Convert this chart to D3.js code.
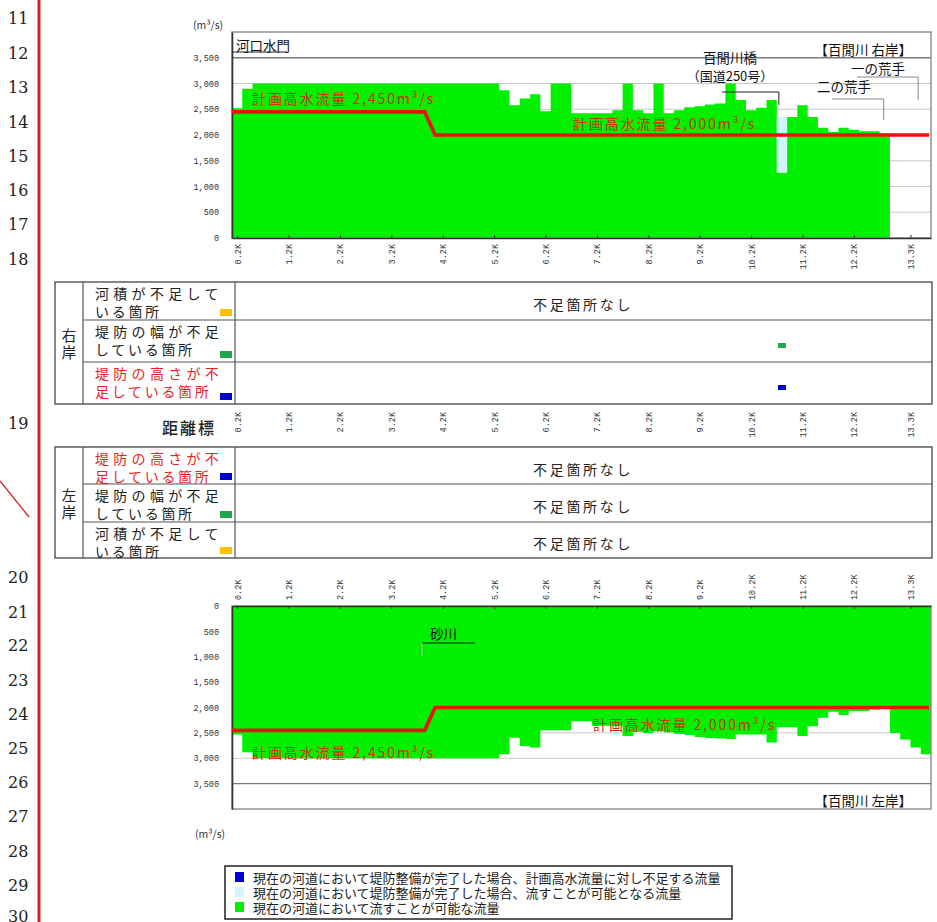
<!DOCTYPE html>
<html>
<head>
<meta charset="utf-8">
<script src="https://cdn.jsdelivr.net/npm/d3@7"></script>
<style>
  body { margin: 0; background: #fff; }
  svg text { font-family: "Noto Sans CJK JP", "Noto Sans", sans-serif; }
</style>
</head>
<body>
<div id="container"></div>
<script>
// distance markers (km), one section of 0.2 km each
const kmMarks = [
  0.2, 0.4, 0.6, 0.8, 1.0, 1.2, 1.4, 1.6, 1.8, 2.0,
  2.2, 2.4, 2.6, 2.8, 3.0, 3.2, 3.4, 3.6, 3.8, 4.0,
  4.2, 4.4, 4.6, 4.8, 5.0, 5.2, 5.4, 5.6, 5.8, 6.0,
  6.2, 6.4, 6.6, 6.8, 7.0, 7.2, 7.4, 7.6, 7.8, 8.0,
  8.2, 8.4, 8.6, 8.8, 9.0, 9.2, 9.4, 9.6, 9.8, 10.0,
  10.2, 10.4, 10.6, 10.8, 11.0, 11.2, 11.4, 11.6, 11.8, 12.0,
  12.2, 12.4, 12.6, 12.8, 13.0, 13.2, 13.4, 13.6
];

// current capacity, right bank (m3/s)
const rightFlow = [
  2520, 2900, 3000, 3000, 3000, 3000, 3000, 3000, 3000, 3000,
  3000, 3000, 3000, 3000, 3000, 3000, 3000, 3000, 3000, 3000,
  3000, 3000, 3000, 3000, 3000, 3000, 2870, 2580, 2710, 2790,
  2460, 3000, 3000, 2420, 2420, 2420, 2420, 2480, 3000, 2480,
  2420, 3000, 2420, 2480, 2540, 2560, 2590, 2610, 3000, 2680,
  2480, 2530, 2680, 1270, 2350, 2580, 2350, 2140, 2060, 2140,
  2100, 2075, 2075, 2030, null, null, null, null
];

// capacity once levee works are done (right bank)
const rightLeveeKm = [10.8];
const rightLeveeFlow = [2350];

// current capacity, left bank (m3/s)
const leftFlow = [
  2530, 2880, 3000, 3000, 3000, 3000, 3000, 3000, 3000, 3000,
  3000, 3000, 3000, 3000, 3000, 3000, 3000, 3000, 3000, 3000,
  3000, 3000, 3000, 3000, 3000, 3000, 2920, 2595, 2760, 2790,
  2450, 2450, 2450, 2270, 2270, 2360, 2360, 2360, 2560, 2480,
  2500, 2470, 2490, 2520, 2540, 2580, 2600, 2610, 2620, 2530,
  2530, 2530, 2690, 2390, 2390, 2560, 2370, 2200, 2085, 2150,
  2070, 2070, 2040, 2020, 2500, 2630, 2790, 2920
];

// planned high water discharge
const planKm = [0.1, 3.85, 4.05, 13.66];
const planFlow = [2450, 2450, 2000, 2000];

const tickKm = [0.2, 1.2, 2.2, 3.2, 4.2, 5.2, 6.2, 7.2, 8.2, 9.2, 10.2, 11.2, 12.2, 13.3];
const tickLabels = ["0.2K", "1.2K", "2.2K", "3.2K", "4.2K", "5.2K", "6.2K", "7.2K", "8.2K", "9.2K", "10.2K", "11.2K", "12.2K", "13.3K"];
const flowTicks = [0, 500, 1000, 1500, 2000, 2500, 3000, 3500];

// shortage table
const rightRowsText = [["河積が不足して", "いる箇所"], ["堤防の幅が不足", "している箇所"], ["堤防の高さが不", "足している箇所"]];
const rightRowsKind = ["area", "width", "height"];
const leftRowsText = [["堤防の高さが不", "足している箇所"], ["堤防の幅が不足", "している箇所"], ["河積が不足して", "いる箇所"]];
const leftRowsKind = ["height", "width", "area"];
const rightShortKm = { area: [], width: [10.8], height: [10.8] };
const leftShortKm = { area: [], width: [], height: [] };

const legendLabels = [
  "現在の河道において堤防整備が完了した場合、計画高水流量に対し不足する流量",
  "現在の河道において堤防整備が完了した場合、流すことが可能となる流量",
  "現在の河道において流すことが可能な流量"
];

const lineNos = [11, 12, 13, 14, 15, 16, 17, 18, 19, 20, 21, 22, 23, 24, 25, 26, 27, 28, 29, 30];

// ---------- layout / style ----------
const W = 937, H = 922;
const GREEN = "#00f000", LIGHT = "#d4f4fb", BLUE = "#0000d8", RED = "#e8140c", LABEL_RED = "#cc3008";
const kindColor = { area: "#ffc000", width: "#1ea84e", height: "#0000d0" };
const lineNoY = [18, 53, 87, 122, 156, 190, 224, 259, 423, 577, 612, 645, 680, 714, 748, 782, 816, 851, 885, 916];

const x = d3.scaleLinear().domain([0.1, 13.7]).range([232, 931]);
const yTop = d3.scaleLinear().domain([0, 4000]).range([238, 32]);
const yBot = d3.scaleLinear().domain([0, 4000]).range([606, 809]);

const svg = d3.create("svg")
  .attr("width", W)
  .attr("height", H)
  .attr("viewBox", [0, 0, W, H]);

svg.append("rect").attr("width", W).attr("height", H).attr("fill", "#fff");

/* ---------- page margin ---------- */
svg.append("g").selectAll("text")
  .data(lineNos)
  .join("text")
  .attr("x", 8)
  .attr("y", (d, i) => lineNoY[i])
  .attr("dominant-baseline", "central")
  .attr("font-size", 16)
  .attr("fill", "#222")
  .style("font-family", "DejaVu Serif")
  .text(d => d);

svg.append("line").attr("x1", 39).attr("x2", 39).attr("y1", 0).attr("y2", H)
  .attr("stroke", "#d42020").attr("stroke-width", 3);
svg.append("line").attr("x1", 0).attr("y1", 481).attr("x2", 29).attr("y2", 517)
  .attr("stroke", "#d42020").attr("stroke-width", 1.3);

/* ---------- flow chart ---------- */
function sectionPoints(flows) {
  const pts = [];
  kmMarks.forEach((k, i) => {
    const v = flows[i];
    if (v == null) return;
    pts.push({ k: Math.max(k - 0.1, x.domain()[0]), v });
    pts.push({ k: Math.min(k + 0.1, x.domain()[1]), v });
  });
  return pts;
}

function drawFlow(y, flows) {
  const g = svg.append("g");
  const [x0, x1] = x.range();

  // grid
  g.selectAll("line.grid")
    .data(flowTicks.filter(d => d > 0))
    .join("line")
    .attr("x1", x0).attr("x2", x1)
    .attr("y1", d => y(d)).attr("y2", d => y(d))
    .attr("stroke", d => d === 3500 ? "#7a7a7a" : "#c8c8c8")
    .attr("stroke-width", d => d === 3500 ? 1.3 : 1);

  // current capacity
  g.append("path")
    .datum(sectionPoints(flows))
    .attr("fill", GREEN)
    .attr("d", d3.area().x(d => x(d.k)).y0(y(0)).y1(d => y(d.v)));

  // frame
  const yA = y(0), yB = y(4000);
  g.append("rect")
    .attr("x", x0).attr("y", Math.min(yA, yB))
    .attr("width", x1 - x0).attr("height", Math.abs(yA - yB))
    .attr("fill", "none").attr("stroke", "#8a8a8a").attr("stroke-width", 1.4);

  // y axis
  const ya = g.append("g")
    .attr("transform", `translate(${x0},0)`)
    .call(d3.axisLeft(y).tickValues(flowTicks).tickFormat(d3.format(",")).tickSize(0).tickPadding(13));
  ya.select(".domain").attr("stroke", "#333").attr("stroke-width", 1.6);
  ya.selectAll("text").attr("font-size", 8.5).attr("fill", "#333")
    .style("font-family", "Liberation Mono");
  return g;
}

function styleTickText(sel) {
  sel.attr("font-size", 8.5).attr("fill", "#333")
    .style("font-family", "Liberation Mono")
    .attr("transform", "rotate(-90)").attr("y", 0).attr("dy", "0.35em");
}

function planLine(g, y) {
  g.append("path")
    .datum(planKm.map((k, i) => ({ k, v: planFlow[i] })))
    .attr("fill", "none").attr("stroke", RED).attr("stroke-width", 3.6)
    .attr("d", d3.line().x(d => x(d.k)).y(d => y(d.v)));
}

function redLabel(g, px, py, txt) {
  g.append("text").attr("x", px).attr("y", py).attr("dominant-baseline", "central")
    .attr("font-size", 14).attr("letter-spacing", 1.9).attr("fill", LABEL_RED).text(txt);
}

function note(g, px, py, txt, anchor, size) {
  g.append("text").attr("x", px).attr("y", py).attr("dominant-baseline", "central")
    .attr("text-anchor", anchor || "start").attr("font-size", size || 13).attr("fill", "#111").text(txt);
}

function seg(g, pts, color) {
  g.append("path").attr("d", d3.line()(pts)).attr("fill", "none")
    .attr("stroke", color || "#333").attr("stroke-width", 1);
}

/* ---------- right bank (top) ---------- */
const topG = drawFlow(yTop, rightFlow);

topG.selectAll("rect.levee")
  .data(rightLeveeKm)
  .join("rect")
  .attr("x", d => x(d - 0.1))
  .attr("width", d => x(d + 0.1) - x(d - 0.1))
  .attr("y", (d, i) => yTop(rightLeveeFlow[i]))
  .attr("height", (d, i) => yTop(rightFlow[kmMarks.indexOf(d)]) - yTop(rightLeveeFlow[i]))
  .attr("fill", LIGHT);

const xaTop = topG.append("g")
  .attr("transform", `translate(0,${yTop(0)})`)
  .call(d3.axisBottom(x).tickValues(tickKm).tickFormat((d, i) => tickLabels[i]).tickSize(-3).tickSizeOuter(0));
xaTop.select(".domain").attr("stroke", "#333").attr("stroke-width", 1.6);
xaTop.selectAll(".tick line").attr("stroke", "#333");
styleTickText(xaTop.selectAll("text").attr("x", -6).attr("text-anchor", "end"));

planLine(topG, yTop);
redLabel(topG, 252, 98, "計画高水流量 2,450m³/s");
redLabel(topG, 573, 123, "計画高水流量 2,000m³/s");

note(topG, 236, 45, "河口水門", "start", 13.5);
seg(topG, [[232, 52], [287, 52]], "#222");
note(topG, 730, 57, "百閒川橋", "middle", 13.5);
note(topG, 730, 75, "（国道250号）", "middle", 13);
seg(topG, [[722, 92], [x(10.74), 92], [x(10.74), 105]], "#222");
note(topG, 912, 49, "【百閒川  右岸】", "end", 13.5);
note(topG, 905, 68, "一の荒手", "end", 13.5);
seg(topG, [[857, 77], [x(13.45), 77], [x(13.45), 100]], "#888");
note(topG, 817, 86, "二の荒手", "start", 13.5);
seg(topG, [[832, 99], [x(12.78), 99], [x(12.78), 120]], "#888");

topG.append("text").attr("x", 193).attr("y", 24).attr("dominant-baseline", "central")
  .attr("font-size", 10.5).attr("fill", "#333").text("(m³/s)");

/* ---------- shortage table ---------- */
function drawTable(bounds, bankChar, rowsText, rowsKind, shortKm) {
  const g = svg.append("g");
  const left = 55, c1 = 83, c2 = 235, right = 932;
  const t = bounds[0], b = bounds[bounds.length - 1];
  g.append("rect").attr("x", left).attr("y", t).attr("width", right - left).attr("height", b - t)
    .attr("fill", "none").attr("stroke", "#444").attr("stroke-width", 1.3);
  [c1, c2].forEach(cx => g.append("line").attr("x1", cx).attr("x2", cx).attr("y1", t).attr("y2", b)
    .attr("stroke", "#555").attr("stroke-width", 1.2));
  bounds.slice(1, -1).forEach(by => g.append("line").attr("x1", c1).attr("x2", right).attr("y1", by).attr("y2", by)
    .attr("stroke", "#555").attr("stroke-width", 1.2));

  const mid = (t + b) / 2;
  bankChar.forEach((ch, i) => g.append("text").attr("x", 69).attr("y", mid - 8.5 + i * 17)
    .attr("text-anchor", "middle").attr("dominant-baseline", "central").attr("font-size", 14.5).attr("fill", "#222").text(ch));

  rowsKind.forEach((kind, r) => {
    const rt = bounds[r], rb = bounds[r + 1], rc = (rt + rb) / 2;
    const col = kind === "height" ? "#e81e1e" : "#222";
    g.append("text").attr("x", 95).attr("y", rt + 11).attr("dominant-baseline", "central")
      .attr("font-size", 14).attr("letter-spacing", 4.3).attr("fill", col).text(rowsText[r][0]);
    g.append("text").attr("x", 95).attr("y", rt + 29).attr("dominant-baseline", "central")
      .attr("font-size", 14).attr("letter-spacing", 2.7).attr("fill", col).text(rowsText[r][1]);
    g.append("rect").attr("x", 220).attr("y", rb - 11).attr("width", 12).attr("height", 7).attr("fill", kindColor[kind]);

    const marks = shortKm[kind];
    if (marks.length === 0) {
      g.append("text").attr("x", 533).attr("y", rc + 3).attr("dominant-baseline", "central")
        .attr("font-size", 14).attr("letter-spacing", 2.7).attr("fill", "#222").text("不足箇所なし");
    } else {
      g.selectAll(null).data(marks).join("rect")
        .attr("x", d => x(d) - 4).attr("width", 8)
        .attr("y", rc + 2).attr("height", 5)
        .attr("fill", kindColor[kind]);
    }
  });
}

drawTable([282, 320, 362, 404], ["右", "岸"], rightRowsText, rightRowsKind, rightShortKm);
drawTable([447, 484, 522, 558], ["左", "岸"], leftRowsText, leftRowsKind, leftShortKm);

svg.append("text").attr("x", 162).attr("y", 427).attr("dominant-baseline", "central")
  .attr("font-size", 16).attr("font-weight", 500).attr("letter-spacing", 2).attr("fill", "#222").text("距離標");

const xaMid = svg.append("g")
  .attr("transform", "translate(0,406)")
  .call(d3.axisBottom(x).tickValues(tickKm).tickFormat((d, i) => tickLabels[i]).tickSize(0));
xaMid.select(".domain").remove();
styleTickText(xaMid.selectAll("text").attr("x", -6).attr("text-anchor", "end"));

/* ---------- left bank (bottom, inverted) ---------- */
const botG = drawFlow(yBot, leftFlow);

const xaBot = botG.append("g")
  .attr("transform", `translate(0,${yBot(0)})`)
  .call(d3.axisTop(x).tickValues(tickKm).tickFormat((d, i) => tickLabels[i]).tickSize(-3).tickSizeOuter(0));
xaBot.select(".domain").attr("stroke", "#333").attr("stroke-width", 1.6);
xaBot.selectAll(".tick line").attr("stroke", "#333");
styleTickText(xaBot.selectAll("text").attr("x", 6).attr("text-anchor", "start"));

planLine(botG, yBot);
redLabel(botG, 252, 752, "計画高水流量 2,450m³/s");
redLabel(botG, 593, 724, "計画高水流量 2,000m³/s");

note(botG, 430, 633, "砂川", "start", 13.5);
seg(botG, [[422, 643], [475, 643]], "#222");
seg(botG, [[422, 643], [422, 656]], "#bbb");
note(botG, 912, 800, "【百閒川  左岸】", "end", 13.5);

botG.append("text").attr("x", 195).attr("y", 833).attr("dominant-baseline", "central")
  .attr("font-size", 10.5).attr("fill", "#333").text("(m³/s)");

/* ---------- legend ---------- */
const legendColors = [BLUE, LIGHT, GREEN];
const lg = svg.append("g");
lg.append("rect").attr("x", 225).attr("y", 866).attr("width", 507).attr("height", 53)
  .attr("fill", "#fff").attr("stroke", "#222").attr("stroke-width", 1.5);
lg.selectAll("rect.sw").data(legendLabels).join("rect")
  .attr("x", 235).attr("y", (d, i) => 872 + i * 15).attr("width", 9).attr("height", 10)
  .attr("fill", (d, i) => legendColors[i]);
lg.selectAll("text").data(legendLabels).join("text")
  .attr("x", 253).attr("y", (d, i) => 877 + i * 15).attr("dominant-baseline", "central")
  .attr("font-size", 13).attr("fill", "#222").text(d => d);

document.getElementById("container").append(svg.node());
</script>
</body>
</html>
